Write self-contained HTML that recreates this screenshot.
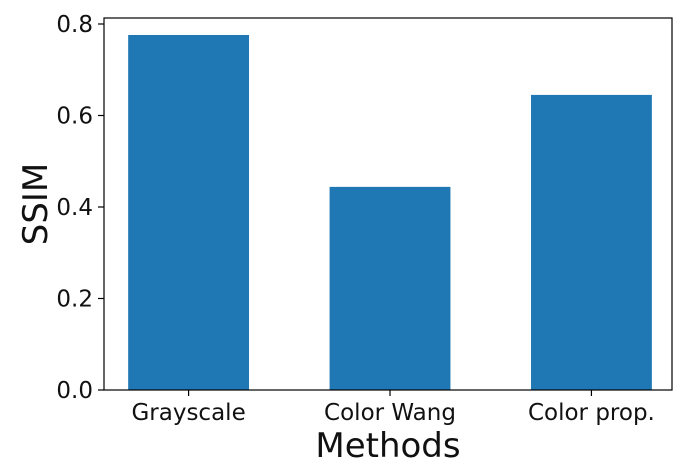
<!DOCTYPE html>
<html><head><meta charset="utf-8"><style>
html,body{margin:0;padding:0;background:#fff;}
svg{display:block;font-family:"DejaVu Sans","Liberation Sans",sans-serif;}
</style></head><body>
<svg id="chart" width="686" height="474"></svg>
<script>
const categories = ["Grayscale", "Color Wang", "Color prop."];
const ssimValues = [0.776, 0.444, 0.645];
const yTickLabels = ["0.0", "0.2", "0.4", "0.6", "0.8"];
const yTickValues = [0, 0.2, 0.4, 0.6, 0.8];

const L = 104, R = 672, T = 18, B = 390;
const pxPerUnit = 457.5;
const xMin = -0.42, xMax = 2.40;
const xs = v => L + (v - xMin) / (xMax - xMin) * (R - L);
const ys = v => B - v * pxPerUnit;
const NS = "http://www.w3.org/2000/svg";
const svg = document.getElementById("chart");
function mk(tag, attrs, text) {
  const e = document.createElementNS(NS, tag);
  for (const k in attrs) e.setAttribute(k, attrs[k]);
  if (text !== undefined) e.textContent = text;
  svg.appendChild(e);
  return e;
}
categories.forEach((c, i) => {
  const x0 = xs(i - 0.3), x1 = xs(i + 0.3);
  const bar = mk("rect", {x: x0, y: ys(ssimValues[i]), width: x1 - x0, height: B - ys(ssimValues[i]), fill: "#1f77b4"});
  
  
  const tk = mk("line", {x1: xs(i), x2: xs(i), y1: B, y2: B + 6, stroke: "#000", "stroke-width": 1.2});
  
  
  const lb = mk("text", {x: xs(i), y: B + 30, "text-anchor": "middle", "font-size": 23, fill: "#111"}, c);
  
  
});
yTickValues.forEach((v, i) => {
  const tk = mk("line", {x1: L - 6, x2: L, y1: ys(v), y2: ys(v), stroke: "#000", "stroke-width": 1.2});
  
  
  const lb = mk("text", {x: L - 11, y: ys(v) + 8, "text-anchor": "end", "font-size": 23, fill: "#111"}, yTickLabels[i]);
  
  
});
const frame = mk("rect", {x: L, y: T, width: R - L, height: B - T, fill: "none", stroke: "#000", "stroke-width": 1.2});


const xt = mk("text", {x: (L + R) / 2, y: 457, "text-anchor": "middle", "font-size": 34, fill: "#111"}, "Methods");


const yt = mk("text", {x: 0, y: 0, "text-anchor": "middle", "font-size": 34, fill: "#111", transform: "translate(47," + ((T + B) / 2) + ") rotate(-90)"}, "SSIM");


</script>
</body></html>
